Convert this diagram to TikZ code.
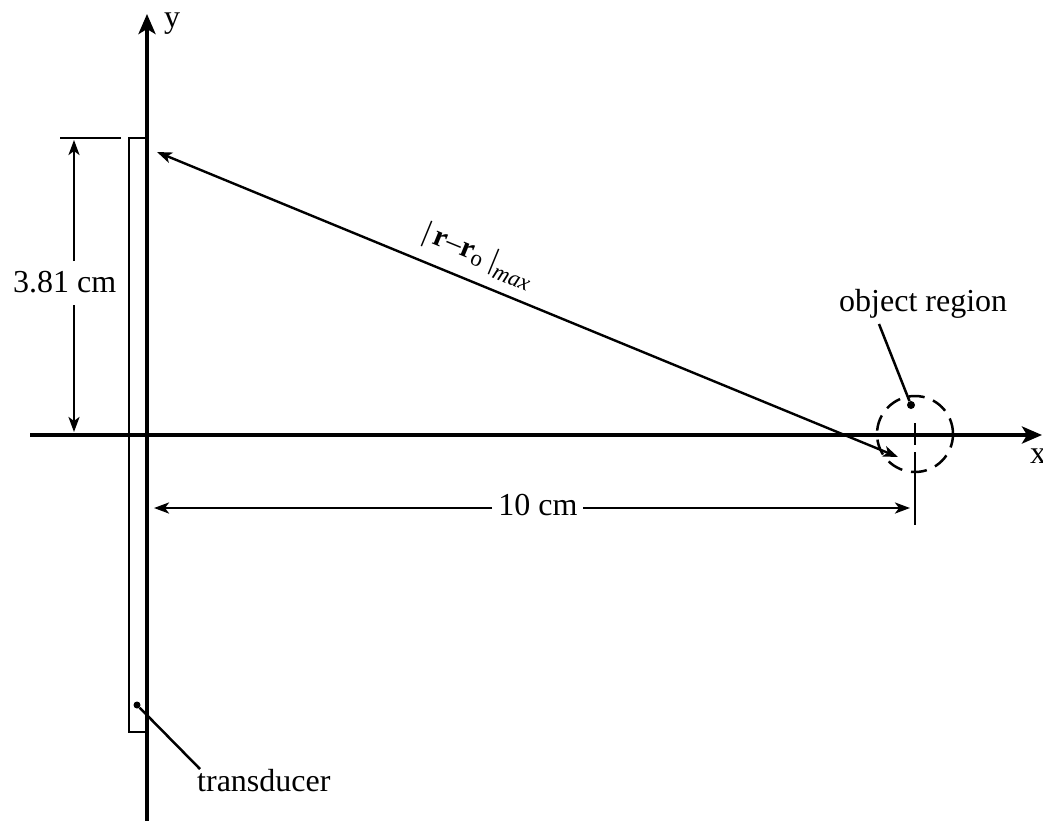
\documentclass[tikz,border=0pt]{standalone}
\usepackage{fontspec}
\setmainfont{Liberation Serif}
\usetikzlibrary{arrows.meta}
\begin{document}
\begin{tikzpicture}[x=1pt,y=-1pt,
  lbl/.style={font=\fontsize{32}{38}\selectfont, inner sep=0pt},
  axisline/.style={line width=3.8pt, -{Stealth[length=20pt,width=17pt,inset=5pt]}},
  thinline/.style={line width=2.5pt},
  dimarrow/.style={line width=2.5pt, -{Stealth[length=15pt,width=11pt,inset=4pt]}},
  dimboth/.style={line width=2.4pt, {Stealth[length=15pt,width=11pt,inset=4pt]}-{Stealth[length=15pt,width=11pt,inset=4pt]}},
  dot/.style={circle, fill, inner sep=0pt, minimum size=8pt},
  region/.style={draw, circle, line width=2.5pt, dash pattern=on 16pt off 9pt, minimum size=76pt, inner sep=0pt}]
\useasboundingbox (0,0) rectangle (1043,820);

% transducer
\node[draw, line width=2.2pt, minimum width=18pt, minimum height=594pt, inner sep=0pt] (trans) at (138,435) {};

% axes
\coordinate (xs) at (30,435);
\coordinate (xe) at (1042,435);
\coordinate (ys) at (147,822);
\coordinate (ye) at (147,14);
\draw[axisline] (xs) -- (xe);
\draw[axisline] (ys) -- (ye);
\node[lbl, anchor=base west] (ylab) at (164,27) {y};
\node[lbl, anchor=base west] (xlab) at (1030,463) {x};

% 3.81 cm dimension
\coordinate (tk1) at (60,138);
\coordinate (tk2) at (121,138);
\draw[thinline] (tk1) -- (tk2);
\node[lbl, anchor=base west] (hlab) at (13,292) {3.81 cm};
\coordinate (hs1) at (74,261);
\coordinate (htop) at (74,140);
\coordinate (hs2) at (74,305);
\coordinate (hbot) at (74,432);
\draw[dimarrow] (hs1) -- (htop);
\draw[dimarrow] (hs2) -- (hbot);

% object region
\node[region] (objc) at (915,434) {};
\node[dot] (objd) at (911,405) {};
\node[lbl, anchor=base west] (objlab) at (839,311) {object region};
\coordinate (objl) at (879,324);
\draw[thinline] (objl) -- (objd);
\coordinate (tka) at (915,423);
\coordinate (tkb) at (915,445);
\coordinate (tkc) at (915,452);
\coordinate (tkd) at (915,525);
\draw[thinline] (tka) -- (tkb);
\draw[thinline] (tkc) -- (tkd);

% |r - r0|max
\coordinate (ra) at (157,152);
\coordinate (rb) at (898,457);
\draw[dimboth] (ra) -- node[pos=0.42, sloped, above=9pt, font=\fontsize{30}{36}\selectfont, inner sep=1pt] (rlab)
  {|\,\textbf{r}\textendash\textbf{r}\raisebox{-0.3ex}{\fontsize{23}{25}\selectfont o}\;|\raisebox{-0.6ex}{\fontsize{23}{25}\selectfont\itshape max}} (rb);

% 10 cm dimension
\node[lbl, anchor=base] (ten) at (538,515) {10 cm};
\coordinate (tenL) at (154,508);
\coordinate (tenR) at (910,508);
\coordinate (tens1) at (492,508);
\coordinate (tens2) at (583,508);
\draw[dimarrow] (tens1) -- (tenL);
\draw[dimarrow] (tens2) -- (tenR);

% transducer label
\node[dot, minimum size=7pt] (td) at (137,705) {};
\coordinate (tl) at (200,769);
\draw[thinline] (td) -- (tl);
\node[lbl, anchor=base west] (tlab) at (197,791) {transducer};
\end{tikzpicture}
\end{document}
